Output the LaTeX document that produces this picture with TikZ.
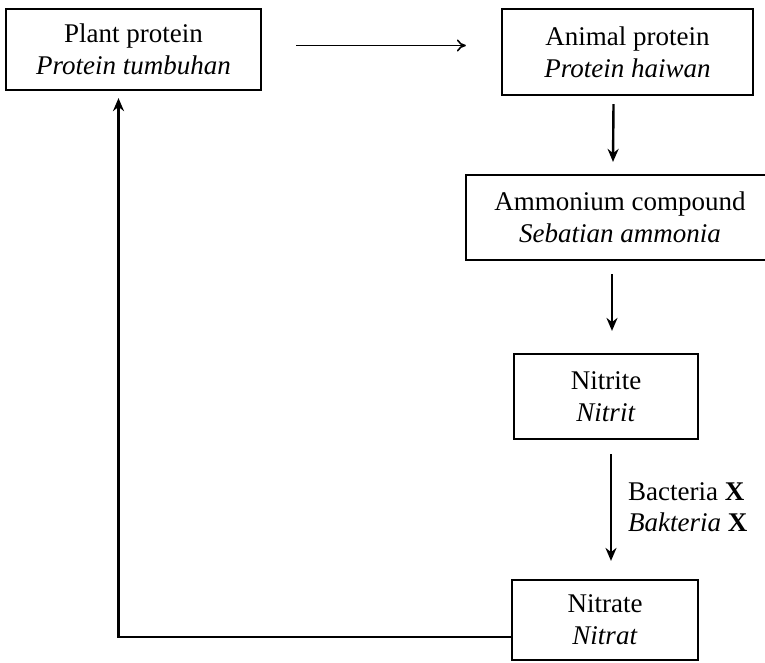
\documentclass[tikz,border=0pt]{standalone}
\usepackage{fontspec}
\setmainfont{Liberation Serif}
\usepackage{xcolor}
\usetikzlibrary{arrows.meta}
\usetikzlibrary{positioning}

\begin{document}
\begin{tikzpicture}[x=1pt, y=-1pt,
					flow box/.style={draw, line width=2.2pt, align=center, inner sep=0pt, font=\fontsize{27}{32}\selectfont},
					flow label/.style={align=left, inner sep=0pt, font=\fontsize{27}{31}\selectfont},
					flow arrow/.style={line width=2.4pt, -{Stealth[length=13pt, width=11pt]}},
					thin arrow/.style={line width=1.6pt, -{To[length=9pt, width=12pt]}},
				]
					\useasboundingbox (0,0) rectangle (765,662);
					
					\node[flow box, minimum width=255pt, minimum height=81pt] (plant) at (133.5,49.5) {Plant protein\\\textit{Protein tumbuhan}};
					\node[flow box, minimum width=251pt, minimum height=86pt] (animal) at (627.5,52) {Animal protein\\\textit{Protein haiwan}};
					\node[flow box, minimum width=308pt, minimum height=85pt] (ammonium) at (620,217.5) {Ammonium compound\\\textit{Sebatian ammonia}};
					\node[flow box, minimum width=184pt, minimum height=85pt] (nitrite) at (606,396.5) {Nitrite\\\textit{Nitrit}};
					\node[flow box, minimum width=186pt, minimum height=80pt] (nitrate) at (605,620) {Nitrate\\\textit{Nitrat}};
					
					\draw[thin arrow, shorten <=34pt, shorten >=35pt] ([yshift=4pt]plant.east) -- ([yshift=4pt]plant.east -| animal.west);
					\draw[flow arrow] ([xshift=-14pt, yshift=-8pt]animal.south) -- ([xshift=-7pt, yshift=12pt]ammonium.north);
					\draw[flow arrow] ([xshift=-8pt, yshift=-13pt]ammonium.south) -- ([xshift=6pt, yshift=22pt]nitrite.north);
					\draw[flow arrow] ([xshift=5pt, yshift=-14pt]nitrite.south) -- ([xshift=6pt, yshift=18pt]nitrate.north)
						node[flow label, midway, right=16pt] (bacteria) {Bacteria \textbf{X}\\\textit{Bakteria} \textbf{X}};
					\draw[flow arrow] ([yshift=-17pt]nitrate.west) -| ([xshift=-15pt, yshift=-7pt]plant.south);
				\end{tikzpicture}
\end{document}
